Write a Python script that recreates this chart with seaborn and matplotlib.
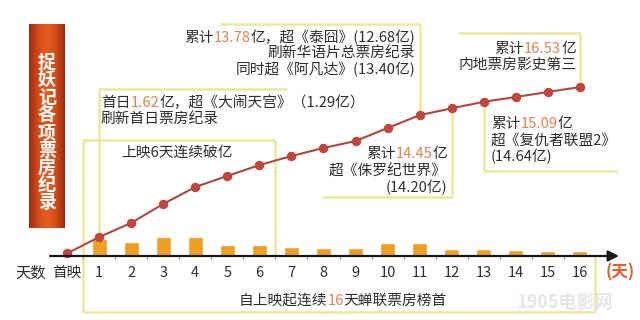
import numpy as np
import pandas as pd
import matplotlib
matplotlib.use("Agg")
import matplotlib.pyplot as plt
import matplotlib.transforms as mtransforms
import seaborn as sns

# ---------------- data ----------------
day_labels = ["首映"] + [str(i) for i in range(1, 17)]
day_pos = list(range(0, 17))
cumulative = [0.25, 1.85, 3.23, 5.09, 6.75, 7.83, 8.90, 9.78, 10.57, 11.25,
              12.52, 13.78, 14.45, 15.09, 15.56, 16.05, 16.53]
bar_days = list(range(1, 17))
daily = [1.62, 1.38, 1.86, 1.84, 1.08, 1.07, 0.90, 0.79, 0.78, 1.26,
         1.27, 0.68, 0.66, 0.54, 0.46, 0.48]

title_text = "捉妖记各项票房纪录"

sns.set_style("white")
plt.rcParams["font.family"] = ["Noto Sans CJK SC", "DejaVu Sans"]

W, H = 640, 320
fig = plt.figure(figsize=(6.4, 3.2), dpi=100)
ax = fig.add_axes([0, 0, 1, 1])
X0, XS = 67, 32.06      # pixel of day 0, pixels per day
Y0, YS = 256, 10.22     # pixel of value 0, pixels per 亿

pix = mtransforms.Affine2D().scale(1 / W, -1 / H).translate(0, 1) + fig.transFigure

def px(x):
    return (x - X0) / XS

def py(y):
    return (Y0 - y) / YS

TXT = "#2e2e2e"
HI = "#e8804c"
YEL = "#ece89a"
FS = 10.6
renderer = fig.canvas.get_renderer()

def seg_text(x, y, segs, ha="left", size=FS, weight="medium"):
    texts, widths = [], []
    for s, c in segs:
        t = fig.text(0, 0, s, color=c, transform=pix, va="center", ha="left",
                     fontsize=size, fontweight=weight)
        widths.append(t.get_window_extent(renderer).width)
        texts.append(t)
    total = sum(widths)
    cur = x - total if ha == "right" else (x - total / 2 if ha == "center" else x)
    for t, w in zip(texts, widths):
        t.set_position((cur, y))
        cur += w

def yline(xs, ys, **kw):
    ax.plot(xs, ys, color=YEL, lw=1.8, zorder=1, solid_capstyle="butt", **kw)

# ---------------- bars & line ----------------
df_bar = pd.DataFrame({"day": bar_days, "gross": daily})
sns.barplot(data=df_bar, x="day", y="gross", native_scale=True, width=0.47,
            color="#f0a020", saturation=1, ax=ax, zorder=2)
df_line = pd.DataFrame({"pos": day_pos, "cum": cumulative})
sns.lineplot(data=df_line, x="pos", y="cum", color="#b5443a", lw=1.5, marker="o",
             markersize=6, markerfacecolor="#c8443a", markeredgecolor="#b5443a",
             ax=ax, zorder=4)
ax.set_xlim(-X0 / XS, (W - X0) / XS)
ax.set_ylim(-(H - Y0) / YS, Y0 / YS)
ax.axis("off")

# ---------------- axis ----------------
ax.annotate("", xy=(px(619), 0), xytext=(px(50), 0),
            arrowprops=dict(arrowstyle="-|>", color="#1a1a1a", lw=1.6,
                            mutation_scale=16, shrinkA=0, shrinkB=0), zorder=5)
for k in range(16):
    ax.plot([k + 0.5, k + 0.5], [0, py(259)], color="#999999", lw=0.8, zorder=3)
for p, lab in zip(day_pos, day_labels):
    ax.text(p, py(273), lab, ha="center", va="center", fontsize=10.5, color=TXT)
fig.text(31, 273, "天数", transform=pix, ha="center", va="center", fontsize=11,
         color=TXT, fontweight="medium")
fig.text(620, 272, "(天)", transform=pix, ha="center", va="center", fontsize=12,
         color="#e0602c", fontweight="bold")

# ---------------- title banner ----------------
grad = np.linspace(-1, 1, 60)
w = 1 - np.abs(grad) ** 1.6
dark = np.array([0.62, 0.16, 0.06])
light = np.array([0.90, 0.36, 0.12])
img = (dark[None, :] + (light - dark)[None, :] * w[:, None])[None, :, :]
ax.imshow(img, extent=(px(29), px(65), py(228), py(24)), aspect="auto", zorder=2)
ax.set_xlim(-X0 / XS, (W - X0) / XS)
ax.set_ylim(-(H - Y0) / YS, Y0 / YS)
for i, ch in enumerate(title_text):
    fig.text(47, 62 + i * 17.6, ch, transform=pix, ha="center", va="center",
             fontsize=13, fontweight="bold", color="white")

# ---------------- annotation boxes ----------------
# box: 上映6天连续破亿 + bottom box
yline([px(83), px(83)], [py(140), py(312)])
yline([px(83), px(275)], [py(140), py(140)])
yline([px(275), px(275)], [py(140), 0])
yline([px(83), px(595)], [py(312), py(312)])
yline([px(595), px(595)], [0, py(312)])
seg_text(177, 153, [("上映6天连续破亿", TXT)], ha="center")
seg_text(343, 301, [("自上映起连续", TXT), ("16", HI), ("天蝉联票房榜首", TXT)], ha="center")

# box: 首日
yline([1, 1], [cumulative[1], py(89)])
yline([1, px(287)], [py(89), py(89)])
seg_text(101, 103, [("首日", TXT), ("1.62", HI), ("亿，超《大闹天宫》（1.29亿）", TXT)])
seg_text(101, 120, [("刷新首日票房纪录", TXT)])

# box: 13.78 (day 11)
yline([11, 11], [cumulative[11], py(24)])
yline([px(220), 11], [py(24), py(24)])
seg_text(415, 38, [("累计", TXT), ("13.78", HI), ("亿，超《泰囧》(12.68亿)", TXT)], ha="right")
seg_text(415, 54, [("刷新华语片总票房纪录", TXT)], ha="right")
seg_text(415, 70, [("同时超《阿凡达》(13.40亿)", TXT)], ha="right")

# box: 14.45 (day 12)
yline([12, 12], [cumulative[12], py(197)])
yline([px(322), 12], [py(197), py(197)])
seg_text(447, 154, [("累计", TXT), ("14.45", HI), ("亿", TXT)], ha="right")
seg_text(447, 171, [("超《侏罗纪世界》", TXT)], ha="right")
seg_text(447, 188, [("(14.20亿)", TXT)], ha="right")

# box: 15.09 (day 13)
yline([13, 13], [cumulative[13], py(171)])
yline([13, px(617)], [py(171), py(171)])
seg_text(491, 124, [("累计", TXT), ("15.09", HI), ("亿", TXT)])
seg_text(491, 141, [("超《复仇者联盟2》", TXT)])
seg_text(491, 157, [("(14.64亿)", TXT)])

# box: 16.53 (day 16)
yline([16, 16], [cumulative[16], py(33)])
yline([px(458), 16], [py(33), py(33)])
seg_text(576, 49, [("累计", TXT), ("16.53", HI), ("亿", TXT)], ha="right")
seg_text(576, 65, [("内地票房影史第三", TXT)], ha="right")

# watermark
fig.text(565, 302, "1905电影网", transform=pix, ha="center", va="center",
         fontsize=13, color="#e6e6ea", fontweight="bold")

fig.savefig("out.png", dpi=100)
